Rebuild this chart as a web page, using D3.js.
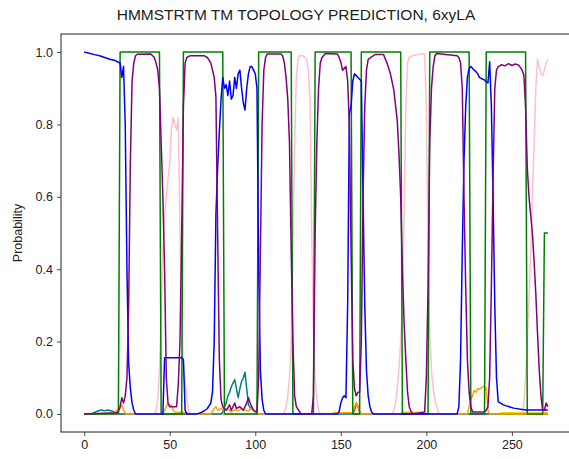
<!DOCTYPE html>
<html>
<head>
<meta charset="utf-8">
<script src="https://cdn.jsdelivr.net/npm/d3@7"></script>
<style>
  body { margin: 0; background: #fff; }
  text { font-family: "Liberation Sans", Arial, sans-serif; }
</style>
</head>
<body>
<div id="chart"></div>
<script>
// values: [residue, probability]
var blue = [[0,1.0],[3,0.997],[6,0.993],[9,0.99],[12,0.985],[15,0.98],[18,0.977],[20,0.972],[21,0.97],[22,0.93],[23,0.96],[24,0.8],[25,0.4],[26,0.14],[27,0.07],[28,0.03],[29,0.01],[30,0],
  [46,0],[47,0.155],[57,0.155],[58,0.15],[59,0.01],[60,0],
  [66,0],[68,0.003],[70,0.008],[72,0.015],[74,0.03],[75,0.06],[76,0.2],[77,0.55],[78,0.68],[79,0.78],[80,0.87],[81,0.93],
  [82,0.9],[83,0.91],[84,0.88],[85,0.92],[86,0.87],[87,0.88],[88,0.93],[89,0.9],[90,0.94],[91,0.95],[92,0.9],[93,0.86],[94,0.84],[95,0.9],[96,0.94],[97,0.96],[98,0.96],[99,0.95],[100,0.94],[101,0.9],[102,0.4],[103,0.12],[104,0.04],[105,0.01],[106,0],
  [148,0],[149,0.006],[150,0.03],[151,0.044],[152,0.05],[153,0.045],[154,0.3],[155,0.83],[156,0.85],[157,0.92],[158,0.94],[159,0.935],[160,0.93],[161,0.925],[162,0.92],[163,0.6],[164,0.3],[165,0.12],[166,0.05],[167,0.02],[168,0.005],[169,0],
  [218,0],[219,0.02],[220,0.15],[221,0.45],[222,0.7],[223,0.85],[224,0.93],[225,0.955],[226,0.96],[228,0.95],[229,0.946],[230,0.94],[231,0.93],[233,0.925],[234,0.923],[235,0.918],[236,0.915],[237,0.973],[238,0.85],[239,0.6],[240,0.3],[241,0.1],[242,0.034],[245,0.025],[251,0.016],[258,0.011],[271,0.011]];

var purple = [[0,0],[19,0.003],[20,0.008],[21,0.02],[22,0.045],[23,0.03],[24,0.05],[25,0.1],[26,0.3],[27,0.7],[28,0.92],[29,0.97],[30,0.99],[31,0.994],[39,0.995],[41,0.985],[42,0.97],[43,0.95],[44,0.9],[45,0.75],[46,0.6],[47,0.4],[48,0.1],[49,0.03],[50,0.02],[54,0.02],[55,0.08],[56,0.2],[57,0.5],[58,0.85],[59,0.97],[60,0.985],[62,0.99],[70,0.99],[72,0.985],[74,0.97],[76,0.93],[77,0.877],[78,0.5],[79,0.15],[80,0.04],[81,0.02],
  [83,0.01],[85,0.025],[86,0.01],[88,0.03],[89,0.015],[91,0.02],[93,0.01],[95,0.03],[96,0.045],[97,0.03],[99,0.01],[101,0.005],[102,0.1],[103,0.45],[104,0.8],[105,0.95],[106,0.985],[107,0.995],[115,0.995],[116,0.99],[117,0.97],[118,0.93],[119,0.87],[120,0.75],[121,0.45],[122,0.2],[123,0.05],[124,0.02],[126,0.005],[127,0],
  [133,0],[134,0.05],[135,0.5],[136,0.75],[137,0.9],[138,0.97],[139,0.985],[141,0.996],[148,0.995],[149,0.985],[150,0.973],[151,0.95],[152,0.955],[153,0.96],[154,0.92],[155,0.8],[156,0.45],[157,0.15],[158,0.07],[159,0.05],[160,0.06],[161,0.06],[162,0.2],[163,0.6],[164,0.85],[165,0.95],[166,0.98],[168,0.987],[170,0.993],[175,0.993],[177,0.97],[179,0.94],[181,0.895],[183,0.81],[184,0.72],[185,0.6],[186,0.4],[187,0.25],[188,0.15],[189,0.06],[190,0.02],[191,0.008],[192,0],
  [199,0.005],[200,0.1],[201,0.35],[202,0.75],[203,0.9],[204,0.96],[205,0.99],[206,0.996],[218,0.99],[219,0.985],[220,0.97],[221,0.9],[222,0.6],[223,0.35],[224,0.15],[225,0.06],[226,0.02],[227,0.005],[234,0.005],[235,0.01],[236,0.02],[237,0.1],[238,0.35],[239,0.65],[240,0.9],[241,0.95],[242,0.96],[244,0.965],[246,0.962],[248,0.968],[250,0.963],[252,0.967],[254,0.964],[256,0.95],[257,0.936],[258,0.85],[259,0.68],[260,0.6],[261,0.55],[262,0.5],[263,0.42],[264,0.33],[265,0.22],[266,0.12],[267,0.05],[268,0.01],[269,0.01],[270,0.03],[271,0.02]];

var pink = [[0,0],[41,0],[42,0.01],[43,0.04],[44,0.12],[45,0.28],[46,0.45],[47,0.55],[48,0.6],[49,0.65],[50,0.69],[51,0.79],[52,0.82],[53,0.8],[54,0.785],[55,0.817],[56,0.5],[57,0.25],[58,0.14],[59,0.09],[60,0.04],[61,0.01],[62,0],
  [116,0],[117,0.005],[118,0.02],[119,0.05],[120,0.1],[121,0.2],[122,0.45],[123,0.75],[124,0.93],[125,0.98],[126,0.99],[128,0.99],[129,0.985],[130,0.98],[131,0.95],[132,0.87],[133,0.5],[134,0.23],[135,0.1],[136,0.04],[137,0.01],[138,0],
  [180,0],[181,0.01],[182,0.03],[183,0.07],[184,0.13],[185,0.2],[186,0.3],[187,0.55],[188,0.85],[189,0.97],[190,0.985],[192,0.99],[196,0.995],[199,0.995],[200,0.85],[201,0.4],[202,0.22],[203,0.12],[204,0.07],[205,0.04],[206,0.02],[207,0.005],[208,0],
  [256,0],[257,0.03],[258,0.1],[259,0.2],[260,0.32],[261,0.45],[262,0.6],[263,0.75],[264,0.9],[265,0.98],[266,0.96],[267,0.94],[268,0.935],[269,0.95],[270,0.97],[271,0.98]];

var green = [[0,0],[20,0],[21,1],[44,1],[45,0],[57,0],[58,1],[81,1],[82,0],[101,0],[102,1],[121,1],[122,0],[134,0],[135,1],[156,1],[157,0],[161,0],[162,1],[185,1],[186,0],[201,0],[202,1],[225,1],[226,0],[234,0],[235,1],[258,1],[259,0],[268,0],[269,0.5],[271,0.5]];

var teal = [[0,0],[4,0],[6,0.004],[8,0.008],[10,0.011],[12,0.009],[14,0.011],[16,0.008],[18,0.005],[20,0.002],[21,0],[80,0],[81,0.005],[82,0.02],[83,0.03],[84,0.05],[85,0.06],[86,0.075],[87,0.085],[88,0.095],[89,0.07],[90,0.045],[91,0.07],[92,0.09],[93,0.1],[94,0.115],[95,0.07],[96,0.025],[97,0.018],[98,0.015],[99,0.01],[100,0.005],[101,0],[271,0]];

var orange = [[0,0],[17,0],[18,0.005],[19,0.01],[20,0.008],[21,0.015],[22,0.025],[23,0.01],[24,0.003],[25,0],[46,0],[47,0.01],[48,0.02],[49,0.03],[50,0.02],[51,0.025],[52,0.01],[53,0.005],[60,0.003],[62,0],[74,0],[75,0.008],[76,0.015],[77,0.02],[78,0.01],[80,0.015],[82,0.01],[84,0.015],[86,0.005],[88,0.012],[90,0.008],[92,0.015],[94,0.01],[96,0.008],[97,0.015],[99,0.01],[101,0.003],[102,0],[145,0],[146,0.003],[157,0.004],[158,0.02],[159,0.03],[160,0.02],[161,0.005],[162,0],[185,0],[186,0.004],[199,0.004],[200,0],[224,0],[225,0.02],[226,0.04],[227,0.05],[228,0.065],[229,0.06],[230,0.07],[231,0.068],[232,0.072],[233,0.075],[234,0.075],[235,0.07],[236,0.01],[237,0],[271,0]];

var gold = [[0,0],[242,0],[243,0.003],[271,0.003]];
var red = [[0,0],[157,0],[158,0.01],[159,0.03],[160,0.02],[161,0.005],[162,0],[271,0]];

var xTicks = [0, 50, 100, 150, 200, 250];
var yTicks = [0.0, 0.2, 0.4, 0.6, 0.8, 1.0];

var W = 569, H = 459;
var margin = {top: 34, right: -2, bottom: 27, left: 61},
    width = W - margin.left - margin.right,
    height = H - margin.top - margin.bottom;

var svg = d3.select("#chart")
    .append("svg")
    .attr("width", W)
    .attr("height", H)
    .append("g")
    .attr("transform", "translate(" + margin.left + "," + margin.top + ")");

// matplotlib style 5% margins
var x = d3.scaleLinear().domain([-13.55, 284.55]).range([0, width]);
var y = d3.scaleLinear().domain([-0.05, 1.05]).range([height, 0]);

var line = d3.line()
    .x(function(d) { return x(d[0]); })
    .y(function(d) { return y(d[1]); });

var series = [
  {data: gold, color: "gold"},
  {data: red, color: "red"},
  {data: pink, color: "pink"},
  {data: teal, color: "teal"},
  {data: orange, color: "orange"},
  {data: green, color: "green"},
  {data: blue, color: "blue"},
  {data: purple, color: "purple"}
];

svg.selectAll(".series")
    .data(series)
    .enter()
    .append("path")
    .attr("class", "series")
    .attr("d", function(d) { return line(d.data); })
    .attr("fill", "none")
    .attr("stroke", function(d) { return d.color; })
    .attr("stroke-width", 1.5)
    .attr("stroke-linejoin", "round");

// axes
var xAxis = svg.append("g")
    .attr("transform", "translate(0," + height + ")")
    .call(d3.axisBottom(x).tickValues(xTicks).tickSize(4).tickPadding(4));
var yAxis = svg.append("g")
    .call(d3.axisLeft(y).tickValues(yTicks).tickFormat(d3.format(".1f")).tickSize(4).tickPadding(4));

[xAxis, yAxis].forEach(function(a) {
  a.select(".domain").remove();
  a.selectAll("line").attr("stroke", "#222").attr("stroke-width", 0.8);
  a.selectAll("text").attr("font-size", 12.5).attr("fill", "#222")
      .style("font-family", "'Liberation Sans', Arial, sans-serif");
});

// frame
svg.append("rect")
    .attr("x", 0).attr("y", 0)
    .attr("width", width).attr("height", height)
    .attr("fill", "none")
    .attr("stroke", "#222")
    .attr("stroke-width", 1);

svg.append("text")
    .attr("x", 296 - margin.left)
    .attr("y", -14)
    .attr("text-anchor", "middle")
    .attr("font-size", 15.5)
    .attr("fill", "#222")
    .text("HMMSTRTM TM TOPOLOGY PREDICTION, 6xyLA");

svg.append("text")
    .attr("transform", "translate(" + (18 - margin.left) + "," + (height / 2) + ")rotate(-90)")
    .attr("text-anchor", "middle")
    .attr("dy", "0.35em")
    .attr("font-size", 12.5)
    .attr("fill", "#222")
    .text("Probability");
</script>
</body>
</html>
